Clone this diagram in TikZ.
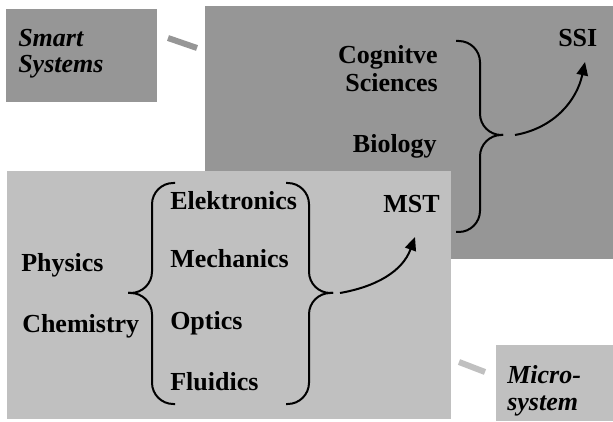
\documentclass[tikz,border=0pt]{standalone}
\usepackage{fontspec}
\setmainfont{Liberation Serif}
\usetikzlibrary{arrows.meta}
\definecolor{darkbox}{RGB}{150,150,150}
\definecolor{lightbox}{RGB}{192,192,192}
\begin{document}
\begin{tikzpicture}[x=0.75pt,y=0.75pt,
	word/.style={inner sep=0pt,font=\fontsize{19.5}{21}\selectfont\bfseries},
	title/.style={word,font=\fontsize{19.5}{20}\selectfont\bfseries\itshape,align=left},
	brace line/.style={line width=1.5pt,rounded corners=16pt},
	flow/.style={line width=1.5pt,-{Triangle[length=10pt,width=8.5pt]}},
	tag/.style={line width=4.5pt}]
	\useasboundingbox (0,0) rectangle (613,421);
	
	% boxes
	\fill[darkbox](205,162) rectangle (613,415);
	\fill[darkbox](6,319) rectangle (157,412);
	\fill[lightbox](7,2) rectangle (451,250);
	\fill[lightbox](496,0) rectangle (613,76);
	
	\draw[tag][darkbox](168,383)--(197,373);
	\draw[tag][lightbox](459,59)--(485,49);
	
	% labels
	\node[title,anchor=base west] (smart) at (18,348) {Smart\\Systems};
	\node[title,anchor=base west] (micro) at (507,11) {Micro-\\system};
	\node[word,align=right,anchor=base east] (cog) at (438,329) {Cognitve\\Sciences};
	\node[word,anchor=base east] (bio) at (437,268) {Biology};
	\node[word,anchor=base west] (ssi) at (558,374) {SSI};
	\node[word,anchor=base west] (mst) at (383,208) {MST};
	\node[word,anchor=base west] (elek) at (170,211) {Elektronics};
	\node[word,anchor=base west] (mech) at (170,153) {Mechanics};
	\node[word,anchor=base west] (opt) at (170,91) {Optics};
	\node[word,anchor=base west] (flu) at (170,31) {Fluidics};
	\node[word,anchor=base west] (phys) at (21,149) {Physics};
	\node[word,anchor=base west] (chem) at (22,89) {Chemistry};
	
	% braces
	\draw[brace line](456,380)--(480,380)--(480,286)--(503,286);
	\draw[brace line](503,286)--(480,286)--(480,189)--(456,189);
	\draw[brace line](175,238)--(152,238)--(152,128)--(128,128);
	\draw[brace line](128,128)--(152,128)--(152,17)--(175,17);
	\draw[brace line](286,238)--(309,238)--(309,128)--(333,128);
	\draw[brace line](333,128)--(309,128)--(309,17)--(286,17);
	
	% arrows
	\coordinate (ssistart) at (515,286);
	\coordinate (ssiend) at (585,359);
	\coordinate (mststart) at (340,128);
	\coordinate (mstend) at (415,184);
	\draw[flow](ssistart) to[out=10,in=-102] (ssiend);
	\draw[flow](mststart) to[out=10,in=-110] (mstend);
	
\end{tikzpicture}
\end{document}
